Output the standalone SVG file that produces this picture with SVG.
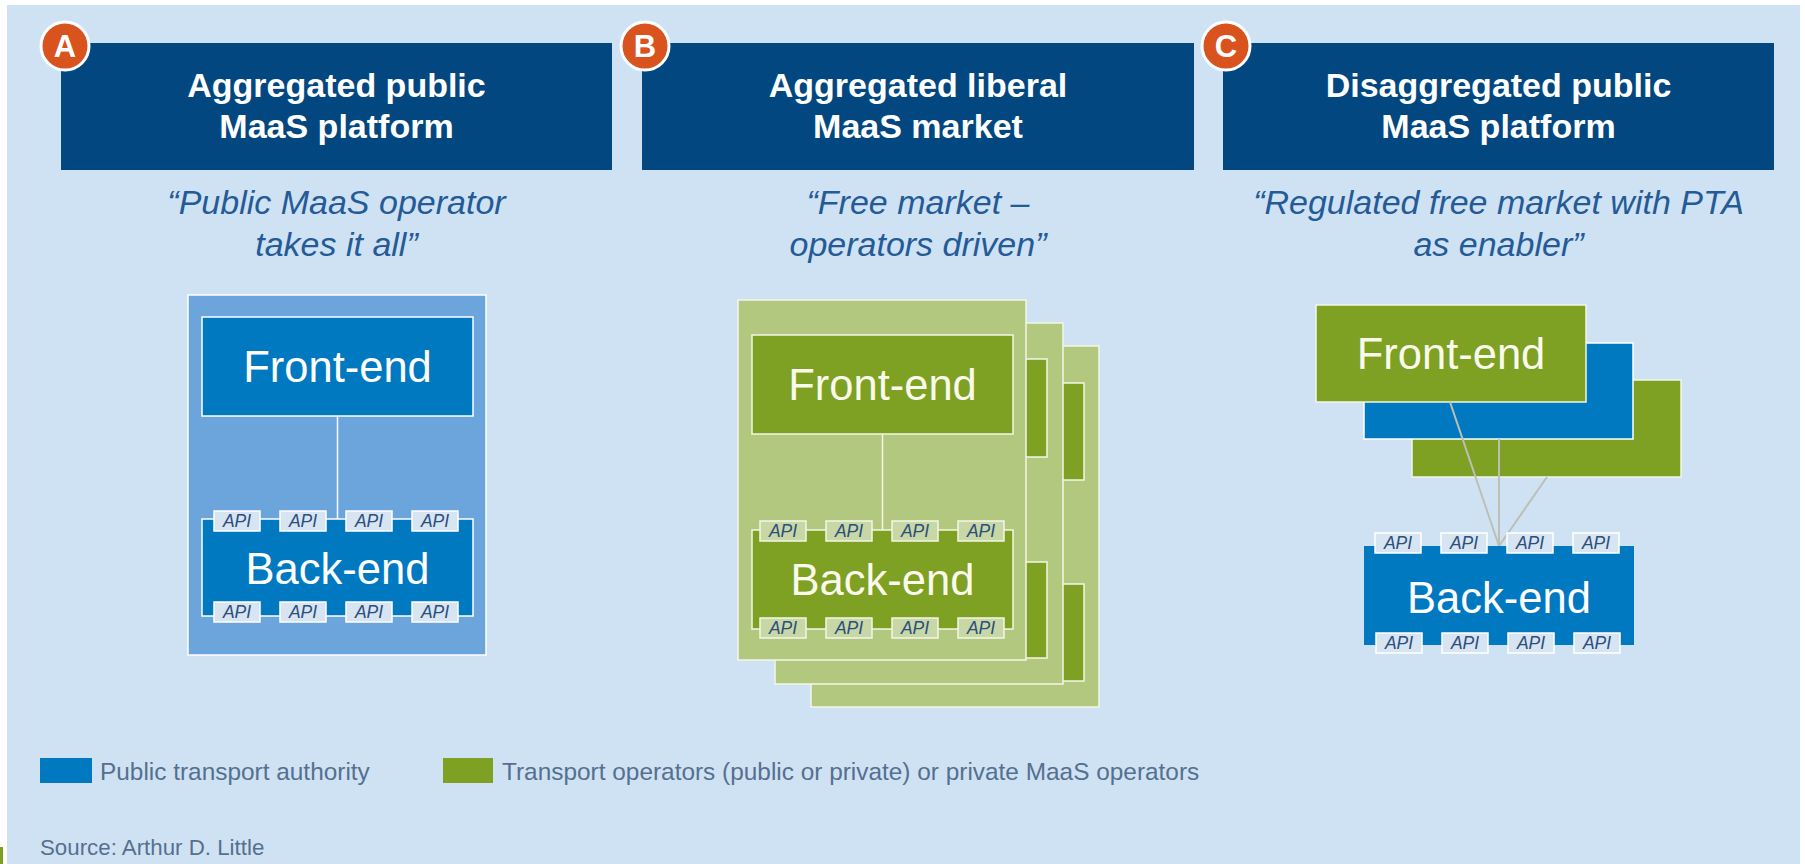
<svg xmlns="http://www.w3.org/2000/svg" width="1805" height="864" viewBox="0 0 1805 864">
<style>
.hdr{fill:#02477F}
.hdrt{font-family:"Liberation Sans",Arial,sans-serif;font-weight:bold;font-size:34px;fill:#ffffff;text-anchor:middle}
.sub{font-family:"Liberation Sans",Arial,sans-serif;font-style:italic;font-size:34px;fill:#245B97;text-anchor:middle}
.badge{fill:#D9531E;stroke:#ffffff;stroke-width:3}
.badget{font-family:"Liberation Sans",Arial,sans-serif;font-weight:bold;font-size:31px;fill:#ffffff;text-anchor:middle}
.blue{fill:#0079C1;stroke:#ffffff;stroke-width:1.5}
.blueplain{fill:#0079C1}
.midblue{fill:#6CA5DB;stroke:#ffffff;stroke-width:1.5}
.dgreen{fill:#7EA023;stroke:#F4F6E6;stroke-width:1.5}
.lgreen{fill:#B3C87F;stroke:#F4F6E6;stroke-width:1.5}
.box{font-family:"Liberation Sans",Arial,sans-serif;font-size:43.5px;fill:#ffffff;text-anchor:middle}
.boxg{font-family:"Liberation Sans",Arial,sans-serif;font-size:43.5px;fill:#FAFAEC;text-anchor:middle}
.apib{fill:#D7E5F2;stroke:#ffffff;stroke-width:1.5}
.apig{fill:#C7D8A6;stroke:#F4F6E6;stroke-width:1.5}
.apit{font-family:"Liberation Sans",Arial,sans-serif;font-style:italic;font-size:17.5px;fill:#2C4E7D;text-anchor:middle}
.leg{font-family:"Liberation Sans",Arial,sans-serif;font-size:24.4px;fill:#55708F}
.src{font-family:"Liberation Sans",Arial,sans-serif;font-size:22.3px;fill:#55708F}
</style>
<rect x="0" y="0" width="1805" height="864" fill="#ffffff"/>
<rect x="7" y="5" width="1793" height="859" fill="#CFE2F4"/>
<rect x="0" y="847" width="3" height="17" fill="#7EA023"/>

<g id="header-a">
<rect class="hdr" x="61" y="43" width="551" height="127"/>
<text class="hdrt" x="336.5" y="97">Aggregated public</text>
<text class="hdrt" x="336.5" y="138">MaaS platform</text>
<circle class="badge" cx="65" cy="46" r="24"/>
<text class="badget" x="65" y="57">A</text>
</g>
<g id="header-b">
<rect class="hdr" x="642" y="43" width="552" height="127"/>
<text class="hdrt" x="918" y="97">Aggregated liberal</text>
<text class="hdrt" x="918" y="138">MaaS market</text>
<circle class="badge" cx="645" cy="46" r="24"/>
<text class="badget" x="645" y="57">B</text>
</g>
<g id="header-c">
<rect class="hdr" x="1223" y="43" width="551" height="127"/>
<text class="hdrt" x="1498.5" y="97">Disaggregated public</text>
<text class="hdrt" x="1498.5" y="138">MaaS platform</text>
<circle class="badge" cx="1226" cy="46" r="24"/>
<text class="badget" x="1226" y="57">C</text>
</g>

<g id="subtitle-a">
<text class="sub" x="336.5" y="214">“Public MaaS operator</text>
<text class="sub" x="336.5" y="256">takes it all”</text>
</g>
<g id="subtitle-b">
<text class="sub" x="918" y="214">“Free market –</text>
<text class="sub" x="918" y="256">operators driven”</text>
</g>
<g id="subtitle-c">
<text class="sub" x="1498.5" y="214">“Regulated free market with PTA</text>
<text class="sub" x="1498.5" y="256">as enabler”</text>
</g>

<!-- Panel A -->
<g id="panel-a">
<rect class="midblue" x="188" y="295" width="298" height="360"/>
</g>
<g id="connectors">
<line x1="337.5" y1="416" x2="337.5" y2="519" stroke="#ffffff" stroke-width="1.5"/>
</g>
<g id="a-front-end">
<rect class="blue" x="202" y="317" width="271" height="99"/>
<text class="box" x="337.5" y="382">Front-end</text>
</g>
<g id="a-back-end">
<rect class="blue" x="202" y="519" width="271" height="97"/>
<text class="box" x="337.5" y="584">Back-end</text>
<rect class="apib" x="214" y="511" width="46" height="20"/><text class="apit" x="237" y="527">API</text>
<rect class="apib" x="280" y="511" width="46" height="20"/><text class="apit" x="303" y="527">API</text>
<rect class="apib" x="346" y="511" width="46" height="20"/><text class="apit" x="369" y="527">API</text>
<rect class="apib" x="412" y="511" width="46" height="20"/><text class="apit" x="435" y="527">API</text>
<rect class="apib" x="214" y="602" width="46" height="20"/><text class="apit" x="237" y="618">API</text>
<rect class="apib" x="280" y="602" width="46" height="20"/><text class="apit" x="303" y="618">API</text>
<rect class="apib" x="346" y="602" width="46" height="20"/><text class="apit" x="369" y="618">API</text>
<rect class="apib" x="412" y="602" width="46" height="20"/><text class="apit" x="435" y="618">API</text>
</g>

<!-- Panel B -->
<g id="b-sheet-3">
<rect class="lgreen" x="811" y="346" width="288" height="361"/>
<rect class="dgreen" x="825" y="383" width="259" height="97"/>
<rect class="dgreen" x="825" y="584" width="259" height="97"/>
</g>
<g id="b-sheet-2">
<rect class="lgreen" x="775" y="323" width="288" height="361"/>
<rect class="dgreen" x="789" y="359" width="258" height="98"/>
<rect class="dgreen" x="789" y="562" width="258" height="96"/>
</g>
<g id="b-sheet-1">
<rect class="lgreen" x="738" y="300" width="288" height="360"/>
</g>
<g id="connectors-b">
<line x1="882.5" y1="434" x2="882.5" y2="530" stroke="#F4F6E6" stroke-width="1.5"/>
</g>
<g id="b-front-end">
<rect class="dgreen" x="752" y="335" width="261" height="99"/>
<text class="boxg" x="882.5" y="400">Front-end</text>
</g>
<g id="b-back-end">
<rect class="dgreen" x="752" y="530" width="261" height="99"/>
<text class="boxg" x="882.5" y="595">Back-end</text>
<rect class="apig" x="760" y="521" width="46" height="20"/><text class="apit" x="783" y="537">API</text>
<rect class="apig" x="826" y="521" width="46" height="20"/><text class="apit" x="849" y="537">API</text>
<rect class="apig" x="892" y="521" width="46" height="20"/><text class="apit" x="915" y="537">API</text>
<rect class="apig" x="958" y="521" width="46" height="20"/><text class="apit" x="981" y="537">API</text>
<rect class="apig" x="760" y="618" width="46" height="20"/><text class="apit" x="783" y="634">API</text>
<rect class="apig" x="826" y="618" width="46" height="20"/><text class="apit" x="849" y="634">API</text>
<rect class="apig" x="892" y="618" width="46" height="20"/><text class="apit" x="915" y="634">API</text>
<rect class="apig" x="958" y="618" width="46" height="20"/><text class="apit" x="981" y="634">API</text>
</g>

<!-- Panel C -->
<g id="c-front-end-3">
<rect class="dgreen" x="1412" y="380" width="269" height="97"/>
</g>
<g id="c-front-end-2">
<rect class="blue" x="1364" y="343" width="269" height="96"/>
</g>
<g id="c-front-end-1">
<rect class="dgreen" x="1316" y="305" width="270" height="97"/>
<text class="boxg" x="1451" y="369">Front-end</text>
</g>
<g id="connectors-c" stroke="#BDBFB6" stroke-width="2" fill="none">
<line x1="1450" y1="402" x2="1499" y2="546"/>
<line x1="1499" y1="439" x2="1499" y2="546"/>
<line x1="1547" y1="477" x2="1499" y2="546"/>
</g>
<g id="c-back-end">
<rect class="blueplain" x="1364" y="546" width="270" height="99"/>
<text class="box" x="1499" y="613">Back-end</text>
<rect class="apib" x="1375" y="533" width="46" height="20"/><text class="apit" x="1398" y="549">API</text>
<rect class="apib" x="1441" y="533" width="46" height="20"/><text class="apit" x="1464" y="549">API</text>
<rect class="apib" x="1507" y="533" width="46" height="20"/><text class="apit" x="1530" y="549">API</text>
<rect class="apib" x="1573" y="533" width="46" height="20"/><text class="apit" x="1596" y="549">API</text>
<rect class="apib" x="1376" y="633" width="46" height="20"/><text class="apit" x="1399" y="649">API</text>
<rect class="apib" x="1442" y="633" width="46" height="20"/><text class="apit" x="1465" y="649">API</text>
<rect class="apib" x="1508" y="633" width="46" height="20"/><text class="apit" x="1531" y="649">API</text>
<rect class="apib" x="1574" y="633" width="46" height="20"/><text class="apit" x="1597" y="649">API</text>
</g>

<g id="legend">
<rect x="40" y="758" width="52" height="25" fill="#0079C1"/>
<text class="leg" x="100" y="780">Public transport authority</text>
<rect x="443" y="758" width="50" height="25" fill="#7EA023"/>
<text class="leg" x="502" y="780">Transport operators (public or private) or private MaaS operators</text>
</g>
<g id="source">
<text class="src" x="40" y="855">Source: Arthur D. Little</text>
</g>
</svg>
